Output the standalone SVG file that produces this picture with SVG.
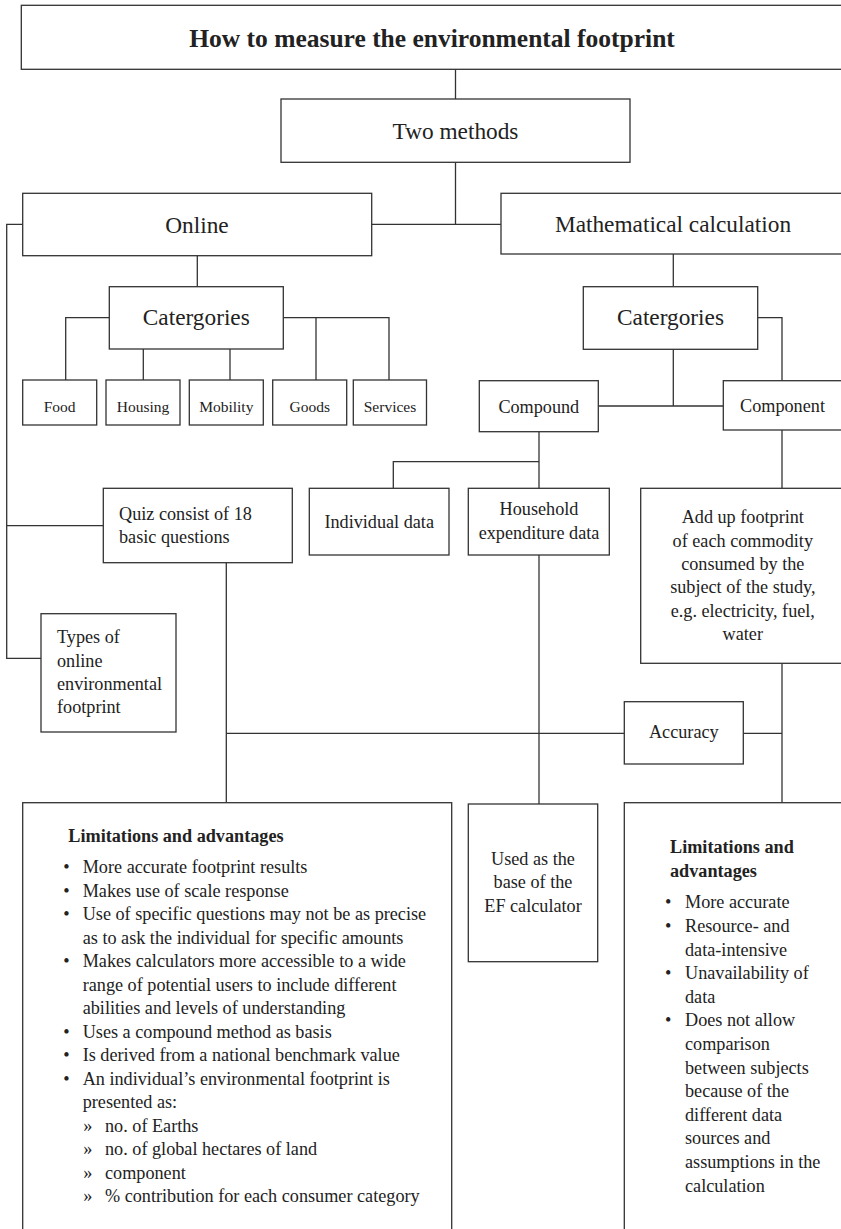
<svg xmlns="http://www.w3.org/2000/svg" width="841" height="1229" viewBox="0 0 841 1229">
<style>
rect{fill:#fff;stroke:#333;stroke-width:1.3}
.c path,.c line{fill:none;stroke:#333;stroke-width:1.3}
text{font-family:"Liberation Serif","Times New Roman",serif;fill:#222}
.m{text-anchor:middle}
.t{font-size:25.5px;font-weight:bold}
.l{font-size:23.3px}
.s{font-size:15.5px}
.n{font-size:18.2px}
.b{font-weight:bold}
</style>
<rect x="0" y="0" width="841" height="1229" style="fill:#fff;stroke:none"/>
<g class="c" id="connectors">
<line x1="455.5" y1="69.3" x2="455.5" y2="99"/>
<line x1="455.5" y1="162.3" x2="455.5" y2="224.3"/>
<line x1="371.7" y1="224.3" x2="501" y2="224.3"/>
<path d="M22.7 224.3 H6.7 V658.3 H41"/>
<line x1="6.7" y1="525.7" x2="103.3" y2="525.7"/>
<line x1="197.3" y1="255.7" x2="197.3" y2="286.7"/>
<path d="M109.3 317.7 H65.7 V380"/>
<path d="M283.3 317.7 H389 V380"/>
<line x1="316" y1="317.7" x2="316" y2="380"/>
<line x1="143.3" y1="349" x2="143.3" y2="380"/>
<line x1="230" y1="349" x2="230" y2="380"/>
<line x1="673.3" y1="254" x2="673.3" y2="286.7"/>
<path d="M757.7 317.7 H782 V380.7"/>
<line x1="673.3" y1="349.3" x2="673.3" y2="406"/>
<line x1="598.3" y1="406" x2="723.3" y2="406"/>
<line x1="539" y1="431.7" x2="539" y2="488.3"/>
<path d="M539 461.7 H393.3 V488.3"/>
<line x1="782" y1="430" x2="782" y2="488.3"/>
<line x1="226.3" y1="562.7" x2="226.3" y2="802.7"/>
<line x1="226.3" y1="733.3" x2="624.3" y2="733.3"/>
<line x1="539" y1="555" x2="539" y2="804"/>
<line x1="743.3" y1="733.3" x2="782" y2="733.3"/>
<line x1="782" y1="663.3" x2="782" y2="802.7"/>
</g>
<g id="title"><rect x="21.3" y="5.3" width="840" height="64"/><text class="t m" x="432" y="47">How to measure the environmental footprint</text></g>
<g id="two-methods"><rect x="281" y="99" width="349" height="63.3"/><text class="l m" x="455.5" y="138.5">Two methods</text></g>
<g id="online"><rect x="22.7" y="193.3" width="349" height="62.4"/><text class="l m" x="197" y="232.7">Online</text></g>
<g id="math"><rect x="501" y="193.3" width="360" height="60.7"/><text class="l m" x="673" y="231.7">Mathematical calculation</text></g>
<g id="cat-left"><rect x="109.3" y="286.7" width="174" height="62.3"/><text class="l m" x="196.3" y="325">Catergories</text></g>
<g id="cat-right"><rect x="583.3" y="286.7" width="174.4" height="62.6"/><text class="l m" x="670.5" y="325">Catergories</text></g>
<g id="food"><rect x="22.7" y="380" width="74" height="45"/><text class="s m" x="59.7" y="411.7">Food</text></g>
<g id="housing"><rect x="106" y="380" width="74" height="45"/><text class="s m" x="143" y="411.7">Housing</text></g>
<g id="mobility"><rect x="189.3" y="380" width="74" height="45"/><text class="s m" x="226.3" y="411.7">Mobility</text></g>
<g id="goods"><rect x="272.7" y="380" width="74" height="45"/><text class="s m" x="309.7" y="411.7">Goods</text></g>
<g id="services"><rect x="353.3" y="380" width="73.2" height="45"/><text class="s m" x="390" y="411.7">Services</text></g>
<g id="compound"><rect x="479.3" y="380.7" width="119" height="51"/><text class="n m" x="538.8" y="412.7">Compound</text></g>
<g id="component"><rect x="723.3" y="380.7" width="140" height="49.3"/><text class="n m" x="782.5" y="411.7">Component</text></g>
<g id="quiz"><rect x="103.3" y="488.3" width="189" height="74.4"/><text class="n" x="119" y="520">Quiz consist of 18</text><text class="n" x="119" y="543.3">basic questions</text></g>
<g id="individual"><rect x="309.3" y="488.3" width="139.7" height="66.7"/><text class="n m" x="379.2" y="528">Individual data</text></g>
<g id="household"><rect x="468.3" y="488.3" width="141" height="66.7"/><text class="n m" x="539" y="515">Household</text><text class="n m" x="539" y="539">expenditure data</text></g>
<g id="addup"><rect x="640.7" y="488.3" width="220" height="175"/>
<text class="n m" x="742.8" y="523.3">Add up footprint</text>
<text class="n m" x="742.8" y="546.7">of each commodity</text>
<text class="n m" x="742.8" y="570">consumed by the</text>
<text class="n m" x="742.8" y="593.3">subject of the study,</text>
<text class="n m" x="742.8" y="616.7">e.g. electricity, fuel,</text>
<text class="n m" x="742.8" y="640">water</text></g>
<g id="types"><rect x="41" y="613.7" width="135" height="118.3"/>
<text class="n" x="57" y="643.3">Types of</text>
<text class="n" x="57" y="666.7">online</text>
<text class="n" x="57" y="690">environmental</text>
<text class="n" x="57" y="713.3">footprint</text></g>
<g id="accuracy"><rect x="624.3" y="701.7" width="119" height="62.3"/><text class="n m" x="683.8" y="737.7">Accuracy</text></g>
<g id="limits-online"><rect x="22.7" y="802.7" width="429" height="450"/>
<text class="n b" x="68.3" y="842.3">Limitations and advantages</text>
<g class="n">
<text x="63.3" y="873.3">•</text><text x="82.7" y="873.3">More accurate footprint results</text>
<text x="63.3" y="896.8">•</text><text x="82.7" y="896.8">Makes use of scale response</text>
<text x="63.3" y="920.3">•</text><text x="82.7" y="920.3">Use of specific questions may not be as precise</text>
<text x="82.7" y="943.8">as to ask the individual for specific amounts</text>
<text x="63.3" y="967.3">•</text><text x="82.7" y="967.3">Makes calculators more accessible to a wide</text>
<text x="82.7" y="990.8">range of potential users to include different</text>
<text x="82.7" y="1014.3">abilities and levels of understanding</text>
<text x="63.3" y="1037.8">•</text><text x="82.7" y="1037.8">Uses a compound method as basis</text>
<text x="63.3" y="1061.3">•</text><text x="82.7" y="1061.3">Is derived from a national benchmark value</text>
<text x="63.3" y="1084.8">•</text><text x="82.7" y="1084.8">An individual’s environmental footprint is</text>
<text x="82.7" y="1108.3">presented as:</text>
<text x="83.3" y="1131.8">»</text><text x="105" y="1131.8">no. of Earths</text>
<text x="83.3" y="1155.3">»</text><text x="105" y="1155.3">no. of global hectares of land</text>
<text x="83.3" y="1178.8">»</text><text x="105" y="1178.8">component</text>
<text x="83.3" y="1202.3">»</text><text x="105" y="1202.3">% contribution for each consumer category</text>
</g></g>
<g id="ef-base"><rect x="468.3" y="804" width="129.4" height="157.7"/>
<text class="n m" x="533" y="865">Used as the</text>
<text class="n m" x="533" y="888.3">base of the</text>
<text class="n m" x="533" y="911.7">EF calculator</text></g>
<g id="limits-math"><rect x="624.3" y="802.7" width="240" height="450"/>
<text class="n b" x="670" y="853.3">Limitations and</text>
<text class="n b" x="670" y="876.7">advantages</text>
<g class="n">
<text x="665" y="908.3">•</text><text x="685" y="908.3">More accurate</text>
<text x="665" y="931.9">•</text><text x="685" y="931.9">Resource- and</text>
<text x="685" y="955.5">data-intensive</text>
<text x="665" y="979.1">•</text><text x="685" y="979.1">Unavailability of</text>
<text x="685" y="1002.7">data</text>
<text x="665" y="1026.3">•</text><text x="685" y="1026.3">Does not allow</text>
<text x="685" y="1049.9">comparison</text>
<text x="685" y="1073.5">between subjects</text>
<text x="685" y="1097.1">because of the</text>
<text x="685" y="1120.7">different data</text>
<text x="685" y="1144.3">sources and</text>
<text x="685" y="1167.9">assumptions in the</text>
<text x="685" y="1191.5">calculation</text>
</g></g>
</svg>
